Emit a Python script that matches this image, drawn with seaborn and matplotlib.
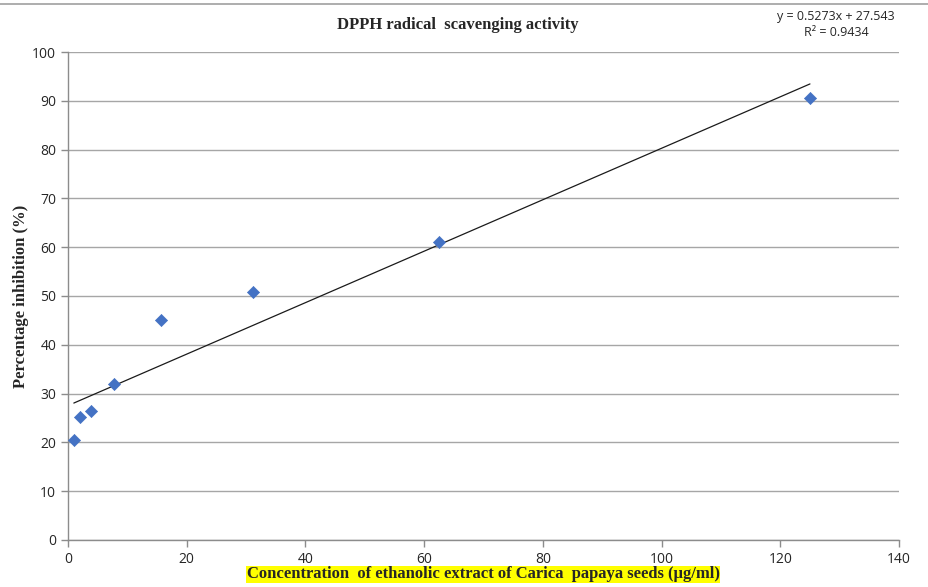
import numpy
import pandas
import seaborn as sea
from matplotlib import pyplot
from matplotlib.lines import Line2D

# concentrations (ug/ml) and % inhibition
conc = [0.98, 1.95, 3.9, 7.8, 15.6, 31.25, 62.5, 125.0]
inhibition = [20.5, 25.3, 26.4, 32.0, 45.0, 50.8, 61.0, 90.5]

# trendline as printed on the chart
slope = 0.5273
intercept = 27.543
r_squared = 0.9434

x_ticks = [0, 20, 40, 60, 80, 100, 120, 140]
y_ticks = [0, 10, 20, 30, 40, 50, 60, 70, 80, 90, 100]

df = pandas.DataFrame({"conc": conc, "inhibition": inhibition})

sea.set_style("white")
pyplot.rcParams["font.family"] = ["Open Sans", "DejaVu Sans"]

figure = pyplot.figure(figsize=(9.29, 5.87), dpi=100)
ax = figure.add_axes([0.0732, 0.0801, 0.8945, 0.8313])

ax.set_xlim(0, 140)
ax.set_ylim(0, 100)
ax.set_xticks(x_ticks)
ax.set_yticks(y_ticks)
ax.grid(axis="y", color="#a6a6a6", linewidth=1.0)
ax.set_axisbelow(True)

sea.scatterplot(
    data=df,
    x="conc",
    y="inhibition",
    marker="D",
    s=38,
    color="#4472c4",
    edgecolor="#4472c4",
    linewidth=0.5,
    ax=ax,
    zorder=3,
)

fit_x = numpy.array([min(conc), max(conc)])
ax.plot(fit_x, slope * fit_x + intercept, color="#1a1a1a", linewidth=0.9, zorder=2)

for side in ["top", "right"]:
    ax.spines[side].set_visible(False)
for side in ["left", "bottom"]:
    ax.spines[side].set_color("#8c8c8c")
    ax.spines[side].set_linewidth(1.0)
ax.tick_params(
    axis="both",
    direction="out",
    length=5,
    width=1.0,
    color="#8c8c8c",
    labelsize=10,
    labelcolor="#262626",
    left=True,
    bottom=True,
)

ax.set_xlabel("")
ax.set_ylabel(
    "Percentage inhibition (%)",
    family="Liberation Serif",
    fontweight="bold",
    fontsize=12,
    labelpad=2,
)
figure.text(
    0.52,
    0.008,
    "Concentration  of ethanolic extract of Carica  papaya seeds (µg/ml)",
    family="Liberation Serif",
    fontweight="bold",
    fontsize=12,
    ha="center",
    va="bottom",
    bbox=dict(facecolor="#ffff00", edgecolor="none", pad=0.5),
)
figure.text(
    0.493,
    0.957,
    "DPPH radical  scavenging activity",
    family="Liberation Serif",
    fontweight="bold",
    fontsize=12,
    ha="center",
    va="center",
)
figure.text(
    0.90,
    0.958,
    f"y = {slope}x + {intercept}\nR² = {r_squared}",
    fontsize=9,
    ha="center",
    va="center",
    linespacing=1.3,
)

# thin gray rule at the top of the picture
figure.add_artist(
    Line2D([0, 1], [0.993, 0.993], transform=figure.transFigure, color="#a0a0a0", linewidth=1.2)
)

pyplot.savefig("out.png", dpi=100)
pyplot.close()
